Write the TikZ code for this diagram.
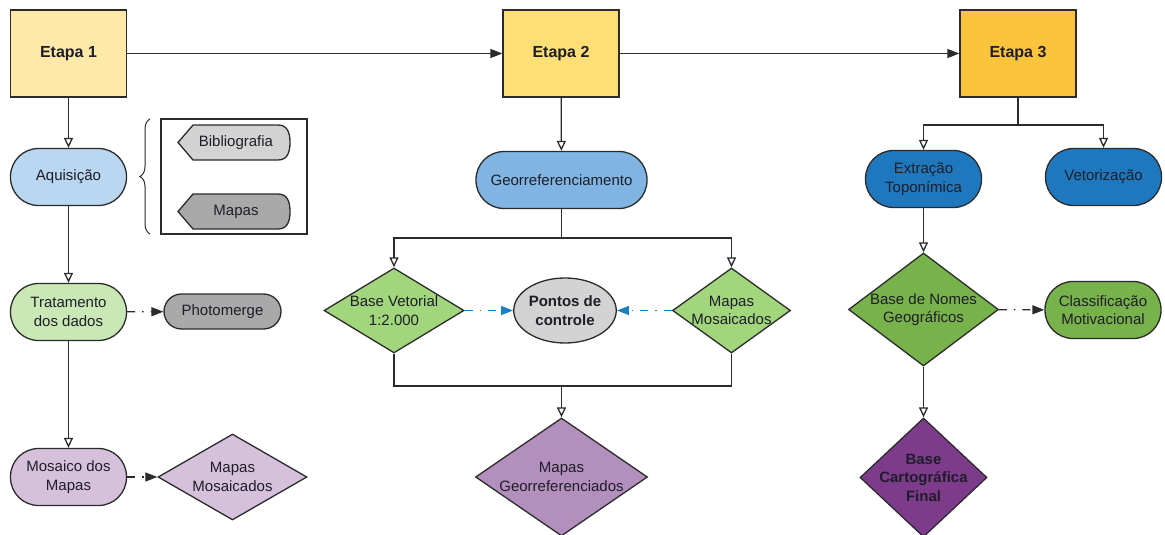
\documentclass[tikz,border=0pt]{standalone}
\usepackage{fontspec}
\setmainfont{Liberation Sans}
\usetikzlibrary{arrows.meta, shapes.geometric, decorations.pathreplacing}

\definecolor{amareloA}{HTML}{FFE9A8}
\definecolor{amareloB}{HTML}{FFDE75}
\definecolor{amareloC}{HTML}{FCC43D}
\definecolor{azulA}{HTML}{B9D7F0}
\definecolor{azulB}{HTML}{80B5E3}
\definecolor{azulC}{HTML}{1F78BE}
\definecolor{verdeA}{HTML}{C9E8B5}
\definecolor{verdeB}{HTML}{A1D67C}
\definecolor{verdeC}{HTML}{78B24B}
\definecolor{roxoA}{HTML}{D6C1DC}
\definecolor{roxoB}{HTML}{B38FBE}
\definecolor{roxoC}{HTML}{7E3B8C}
\definecolor{cinzaA}{HTML}{D3D3D3}
\definecolor{cinzaB}{HTML}{A9A9A9}
\definecolor{linha}{HTML}{2B2B2B}
\definecolor{texto}{HTML}{1E1E28}
\definecolor{azulseta}{HTML}{1B80C3}

\tikzset{
  rotulo/.style={text=texto, align=center, font=\fontsize{15}{18.5}\selectfont},
  caixa/.style={rotulo, draw=linha, line width=1.3pt},
  etapa/.style={caixa, rectangle, minimum width=116pt, minimum height=87pt,
    font=\fontsize{16}{19}\selectfont\bfseries},
  capsula/.style={caixa, rectangle, rounded corners=28pt, inner sep=0pt,
    minimum width=116pt, minimum height=57pt},
  losango/.style={diamond, draw=linha, line width=1.3pt, inner sep=0pt},
  fio/.style={draw=linha, line width=1.3pt},
  fluxo/.style={fio, -{Triangle[open, length=10pt, width=9pt]}},
  passo/.style={fio, -{Triangle[length=12pt, width=9pt]}},
  traco/.style={fio, dash pattern=on 8pt off 7pt on 1.5pt off 7pt,
    -{Triangle[length=12pt, width=9pt]}},
  tracoazul/.style={traco, draw=azulseta, -{Triangle[length=12pt, width=9pt, fill=azulseta]}},
}

\begin{document}
\begin{tikzpicture}[x=1pt, y=-1pt]
\useasboundingbox (0,0) rectangle (1165,535);

% etapas
\node[etapa, fill=amareloA] (et1) at (68.5,53.5) {Etapa 1};
\node[etapa, fill=amareloB] (et2) at (561,53.5) {Etapa 2};
\node[etapa, fill=amareloC] (et3) at (1018,53.5) {Etapa 3};
\draw[passo] (et1) -- (et2);
\draw[passo] (et2) -- (et3);

% etapa 1
\node[capsula, fill=azulA] (aqu) at (68.5,177) {Aquisição};
\node[capsula, fill=verdeA] (tra) at (68.5,312) {Tratamento\\dos dados};
\node[capsula, fill=roxoA] (mos) at (68.5,477) {Mosaico dos\\Mapas};
\node[capsula, fill=cinzaB, minimum width=117pt, minimum height=35pt,
  rounded corners=17.5pt] (pho) at (222.5,311.5) {Photomerge};
\node[losango, fill=roxoA, minimum width=149pt, minimum height=86pt,
  label={[rotulo]center:Mapas\\Mosaicados}] (mm1) at (232.5,477) {};

\draw[fluxo] (et1) -- (aqu);
\draw[fluxo] (aqu) -- (tra);
\draw[fluxo] (tra) -- (mos);
\draw[traco] (tra) -- (pho);
\draw[traco] (mos) -- (mm1);

% fontes
\node[fio, draw, minimum width=146pt, minimum height=115pt] (fon) at (234,176.5) {};
\draw[fio, line width=1pt, decorate, decoration={brace, amplitude=10pt}] (150,234) -- (150,119);
\draw[fio, fill=cinzaA] (178,142.5) -- (193,125) -- (278,125)
  .. controls (287,125) and (290,132) .. (290,142.5)
  .. controls (290,153) and (287,160) .. (278,160) -- (193,160) -- cycle;
\node[rotulo] (bib) at (236,142.5) {Bibliografia};
\draw[fio, fill=cinzaB] (178,211.5) -- (193,194) -- (278,194)
  .. controls (287,194) and (290,201) .. (290,211.5)
  .. controls (290,222) and (287,229) .. (278,229) -- (193,229) -- cycle;
\node[rotulo] (map) at (236,211.5) {Mapas};

% etapa 2
\node[capsula, fill=azulB, minimum width=171pt] (geo) at (561.5,180) {Georreferenciamento};
\node[losango, fill=verdeB, minimum width=140pt, minimum height=85pt,
  label={[rotulo]center:Base Vetorial\\1:2.000}] (bv) at (394,310.5) {};
\node[caixa, ellipse, fill=cinzaA, inner sep=0pt, minimum width=96pt, minimum height=65pt,
  font=\fontsize{15}{18.5}\selectfont\bfseries] (pc) at (565,310.5) {Pontos de\\controle};
\node[losango, fill=verdeB, minimum width=118pt, minimum height=85pt,
  label={[rotulo]center:Mapas\\Mosaicados}] (mm2) at (731.5,310.5) {};
\node[losango, fill=roxoB, minimum width=172pt, minimum height=118pt,
  label={[rotulo]center:Mapas\\Georreferenciados}] (mg) at (561.5,477) {};

\coordinate (ramo2) at (561.5,238);
\coordinate (junta2) at (561.5,386);
\draw[fluxo] (et2) -- (geo);
\draw[fio] (geo) -- (ramo2);
\draw[fluxo] (ramo2) -| (bv);
\draw[fluxo] (ramo2) -| (mm2);
\draw[fio] (bv) |- (junta2) -| (mm2);
\draw[fluxo] (junta2) -- (mg);
\draw[tracoazul] (bv) -- (pc);
\draw[tracoazul] (mm2) -- (pc);

% etapa 3
\node[capsula, fill=azulC] (ext) at (923.5,179) {Extração\\Toponímica};
\node[capsula, fill=azulC] (vet) at (1103.5,177) {Vetorização};
\node[losango, fill=verdeC, minimum width=150pt, minimum height=113pt,
  label={[rotulo]center:Base de Nomes\\Geográficos}] (bng) at (923.5,309.5) {};
\node[capsula, fill=verdeC] (cla) at (1103,310) {Classificação\\Motivacional};
\node[losango, fill=roxoC, minimum width=127pt, minimum height=119pt,
  label={[rotulo, font=\fontsize{15}{18.5}\selectfont\bfseries]center:Base\\Cartográfica\\Final}] (bcf) at (923.5,477.5) {};

\coordinate (ramo3) at (1018,125);
\draw[fio] (et3) -- (ramo3);
\draw[fluxo] (ramo3) -| (ext);
\draw[fluxo] (ramo3) -| (vet);
\draw[fluxo] (ext) -- (bng);
\draw[fluxo] (bng) -- (bcf);
\draw[traco] (bng) -- (cla);
\end{tikzpicture}
\end{document}
